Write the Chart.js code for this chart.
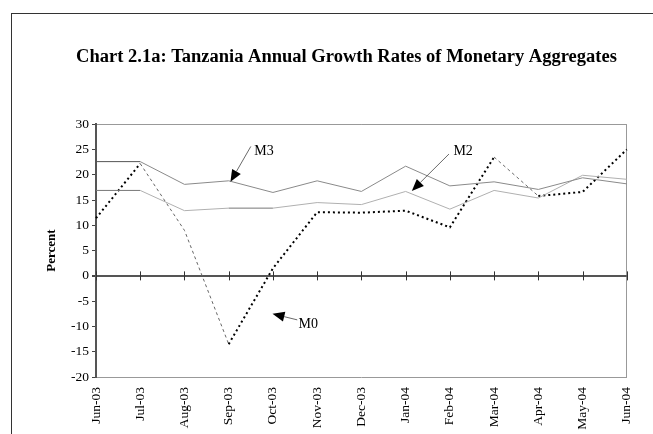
<!DOCTYPE html>
<html>
<head>
<meta charset="utf-8">
<script src="https://cdn.jsdelivr.net/npm/chart.js@4.4.0/dist/chart.umd.min.js"></script>
<style>
  body { margin: 0; background: #fff; }
  #wrap { position: relative; width: 653px; height: 434px; overflow: hidden; }
  #frame { position: absolute; left: 11px; top: 13px; width: 700px; height: 500px;
           border-top: 1.5px solid #333; border-left: 1.5px solid #333; }
  canvas { position: absolute; left: 0; top: 0; }
</style>
</head>
<body>
<div id="wrap">
  <div id="frame"></div>
  <canvas id="chart" width="653" height="434"></canvas>
</div>
<script>
const months = ["Jun-03", "Jul-03", "Aug-03", "Sep-03", "Oct-03", "Nov-03", "Dec-03",
                "Jan-04", "Feb-04", "Mar-04", "Apr-04", "May-04", "Jun-04"];
const m3 = [22.6, 22.6, 18.1, 18.8, 16.5, 18.8, 16.7, 21.7, 17.8, 18.6, 17.1, 19.4, 18.2];
const m2 = [16.9, 16.9, 12.9, 13.4, 13.4, 14.5, 14.1, 16.7, 13.2, 16.9, 15.4, 19.9, 19.1];
const m0 = [11.4, 22.2, 9.0, -13.5, 1.5, 12.6, 12.5, 12.9, 9.6, 23.5, 15.8, 16.6, 25.0];

const yMin = -20;
const yMax = 30;
const yStep = 5;

const serif = "'Liberation Serif', 'Times New Roman', serif";

// segments of M0 that come out thin/grey in the original
const thinM0 = [1, 2, 9];

// callouts: [category index, value]
const callouts = [
  { text: "M3", tip: [3.04, 18.6], tail: [3.5, 25.6], label: [3.58, 24.7] },
  { text: "M2", tip: [7.14, 16.8], tail: [7.98, 24.1], label: [8.08, 24.7] },
  { text: "M0", tip: [3.99, -7.5], tail: [4.55, -8.7], label: [4.58, -9.5] },
];

const flatDarker = (color, dark) => (ctx) =>
  ctx.p0.parsed.y === ctx.p1.parsed.y ? dark : color;

const extras = {
  id: "extras",
  afterDatasetsDraw(chart) {
    const ctx = chart.ctx;
    const x = chart.scales.x;
    const y = chart.scales.y;
    const area = chart.chartArea;

    // tick marks on the zero line
    const y0 = y.getPixelForValue(0);
    ctx.save();
    ctx.strokeStyle = "#333";
    ctx.lineWidth = 1;
    for (let i = 0; i < months.length; i++) {
      const px = Math.round(x.getPixelForValue(i)) + 0.5;
      ctx.beginPath();
      ctx.moveTo(px, y0 - 4.5);
      ctx.lineTo(px, y0 + 4.5);
      ctx.stroke();
    }

    // callout arrows
    callouts.forEach((c) => {
      const tx = x.getPixelForValue(c.tip[0]);
      const ty = y.getPixelForValue(c.tip[1]);
      const sx = x.getPixelForValue(c.tail[0]);
      const sy = y.getPixelForValue(c.tail[1]);
      const ang = Math.atan2(ty - sy, tx - sx);
      const len = 12, half = 5;
      const bx = tx - len * Math.cos(ang);
      const by = ty - len * Math.sin(ang);
      ctx.strokeStyle = "#444";
      ctx.lineWidth = 0.8;
      ctx.beginPath();
      ctx.moveTo(sx, sy);
      ctx.lineTo(bx, by);
      ctx.stroke();
      ctx.fillStyle = "#000";
      ctx.beginPath();
      ctx.moveTo(tx, ty);
      ctx.lineTo(bx + half * Math.sin(ang), by - half * Math.cos(ang));
      ctx.lineTo(bx - half * Math.sin(ang), by + half * Math.cos(ang));
      ctx.closePath();
      ctx.fill();
      ctx.font = "14px " + serif;
      ctx.textAlign = "left";
      ctx.textBaseline = "middle";
      ctx.fillText(c.text, x.getPixelForValue(c.label[0]), y.getPixelForValue(c.label[1]));
    });

    // y axis title
    ctx.translate(area.left - 44, (area.top + area.bottom) / 2);
    ctx.rotate(-Math.PI / 2);
    ctx.font = "bold 13px " + serif;
    ctx.textAlign = "center";
    ctx.textBaseline = "middle";
    ctx.fillStyle = "#000";
    ctx.fillText("Percent", 0, 0);
    ctx.restore();
  },
};

const chartEl = document.querySelector("#chart");
const mychart = new Chart(chartEl, {
  type: "line",
  data: {
    labels: months,
    datasets: [
      {
        label: "M3",
        data: m3,
        borderColor: "#8a8a8a",
        borderWidth: 1,
        pointRadius: 0,
        segment: { borderColor: flatDarker("#8a8a8a", "#555") },
      },
      {
        label: "M2",
        data: m2,
        borderColor: "#b0b0b0",
        borderWidth: 1,
        pointRadius: 0,
        segment: { borderColor: flatDarker("#b0b0b0", "#777") },
      },
      {
        label: "M0",
        data: m0,
        borderColor: "#000",
        borderWidth: 2,
        borderDash: [2, 3],
        pointRadius: 0,
        segment: {
          borderWidth: (ctx) => (thinM0.includes(ctx.p0DataIndex) ? 1 : 2),
          borderColor: (ctx) => (thinM0.includes(ctx.p0DataIndex) ? "#666" : "#000"),
          borderDash: (ctx) => (thinM0.includes(ctx.p0DataIndex) ? [3, 3] : [2, 3]),
        },
      },
    ],
  },
  options: {
    responsive: false,
    animation: false,
    devicePixelRatio: 1,
    layout: { padding: { left: 61, right: 21, top: 0, bottom: 0 } },
    plugins: {
      legend: { display: false },
      tooltip: { enabled: false },
      title: {
        display: true,
        text: "Chart 2.1a: Tanzania Annual Growth Rates of Monetary Aggregates",
        color: "#000",
        font: { family: serif, size: 18.5, weight: "bold" },
        padding: { top: 46, bottom: 56 },
      },
    },
    scales: {
      x: {
        offset: false,
        afterFit: (scale) => { scale.height = 57; },
        border: { color: "#999", width: 1 },
        grid: {
          drawTicks: false,
          color: (ctx) => (ctx.index === months.length - 1 ? "#999" : "transparent"),
        },
        ticks: {
          color: "#000",
          font: { family: serif, size: 13.5 },
          maxRotation: 90,
          minRotation: 90,
          autoSkip: false,
          padding: 10,
        },
      },
      y: {
        min: yMin,
        max: yMax,
        afterFit: (scale) => { scale.width = 35; },
        border: { color: "#555", width: 2 },
        grid: {
          color: (ctx) => {
            if (ctx.tick.value === 0) return "#555";
            if (ctx.tick.value === yMax) return "#999";
            return "transparent";
          },
          lineWidth: (ctx) => (ctx.tick.value === 0 ? 2 : 1),
          tickColor: "#444",
          tickLength: 4,
        },
        ticks: {
          stepSize: yStep,
          color: "#000",
          font: { family: serif, size: 13.5 },
          padding: 3,
        },
      },
    },
  },
  plugins: [extras],
});
</script>
</body>
</html>
